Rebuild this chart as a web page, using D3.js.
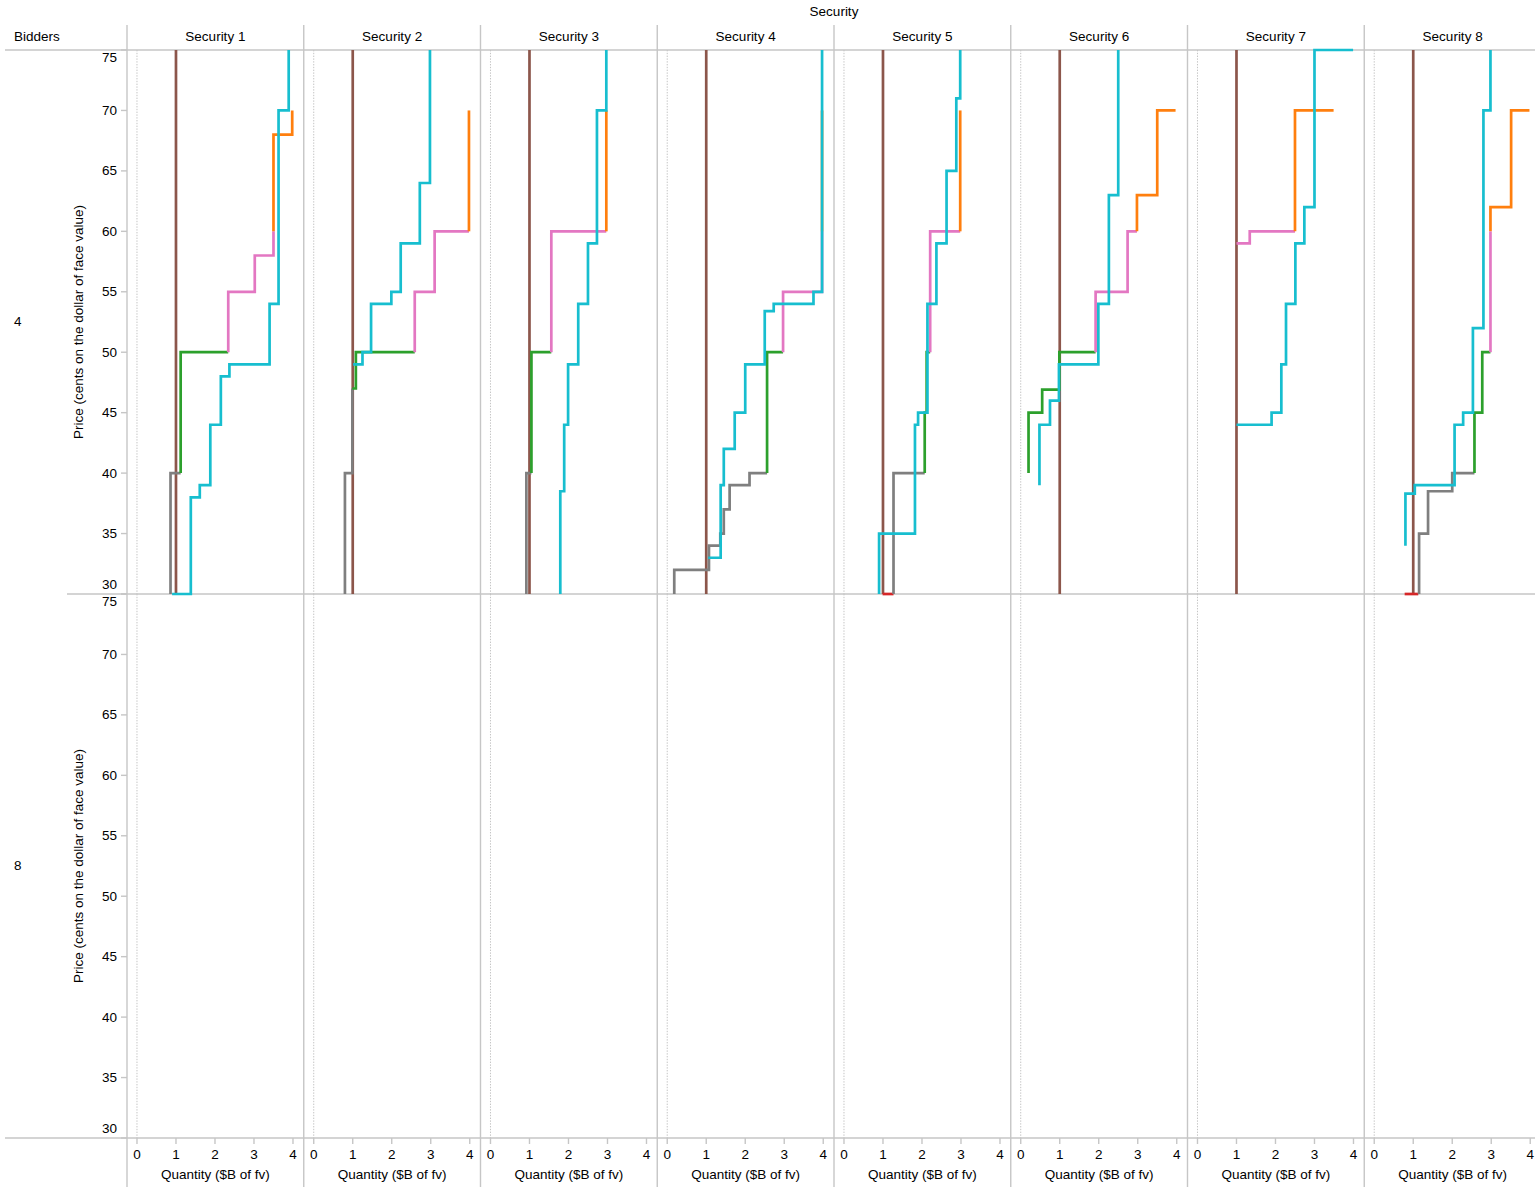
<!DOCTYPE html>
<html>
<head>
<meta charset="utf-8">
<script src="https://cdn.jsdelivr.net/npm/d3@7"></script>
<style>
  html, body { margin: 0; padding: 0; background: #fff; overflow: hidden; }
  svg text { font-family: "Liberation Sans", Arial, Helvetica, sans-serif; font-size: 13.5px; fill: #000; }
</style>
</head>
<body>
<div id="chart"></div>
<script>
// ---------------- DATA ----------------
const securities = ["Security 1","Security 2","Security 3","Security 4","Security 5","Security 6","Security 7","Security 8"];
const bidderGroups = ["4", "8"];
const priceTicks = [30, 35, 40, 45, 50, 55, 60, 65, 70, 75];
const quantityTicks = [0, 1, 2, 3, 4];
const priceDomain = [30, 75];
const quantityDomain = [-0.256, 4.276];
// supply quantity per security (vertical line), bidder group "4"
const supplyQty = [1, 1, 1, 1, 1, 1, 1, 1];

// step curves, [quantity ($B), price (cents)] — bidder group "4"
const sec1 = [
  {band: "30-40", pts: [[0.86,30],[0.86,40],[1.12,40]]},
  {band: "40-50", pts: [[1.12,40],[1.12,50],[2.34,50]]},
  {band: "50-60", pts: [[2.34,50],[2.34,55],[3.02,55],[3.02,58],[3.50,58],[3.50,60]]},
  {band: "60-70", pts: [[3.50,60],[3.50,68],[3.98,68],[3.98,70]]},
  {band: "all", pts: [[0.9,30],[1.38,30],[1.38,38],[1.61,38],[1.61,39],[1.88,39],[1.88,44],[2.15,44],[2.15,48],[2.37,48],[2.37,49],[3.40,49],[3.40,54],[3.63,54],[3.63,70],[3.89,70],[3.89,75]]}
];
const sec2 = [
  {band: "30-40", pts: [[0.80,30],[0.80,40],[0.99,40],[0.99,47]]},
  {band: "40-50", pts: [[0.99,47],[1.08,47],[1.08,50],[2.59,50]]},
  {band: "50-60", pts: [[2.59,50],[2.59,55],[3.10,55],[3.10,60],[3.98,60]]},
  {band: "60-70", pts: [[3.98,60],[3.98,70]]},
  {band: "all", pts: [[1.01,49],[1.25,49],[1.25,50],[1.47,50],[1.47,54],[1.99,54],[1.99,55],[2.23,55],[2.23,59],[2.72,59],[2.72,64],[2.98,64],[2.98,75]]}
];
const sec3 = [
  {band: "30-40", pts: [[0.92,30],[0.92,40],[1.05,40]]},
  {band: "40-50", pts: [[1.05,40],[1.05,50],[1.56,50]]},
  {band: "50-60", pts: [[1.56,50],[1.56,60],[2.97,60]]},
  {band: "60-70", pts: [[2.97,60],[2.97,70]]},
  {band: "all", pts: [[1.79,30],[1.79,38.5],[1.89,38.5],[1.89,44],[1.99,44],[1.99,49],[2.25,49],[2.25,54],[2.50,54],[2.50,59],[2.73,59],[2.73,70],[2.97,70],[2.97,75]]}
];
const sec4 = [
  {band: "30-40", pts: [[0.18,30],[0.18,32],[1.07,32],[1.07,34],[1.36,34],[1.36,35],[1.45,35],[1.45,37],[1.60,37],[1.60,39],[2.11,39],[2.11,40],[2.56,40]]},
  {band: "40-50", pts: [[2.56,40],[2.56,50],[2.97,50]]},
  {band: "50-60", pts: [[2.97,50],[2.97,55],[3.97,55],[3.97,60]]},
  {band: "60-70", pts: [[3.97,60],[3.97,70]]},
  {band: "all", pts: [[1.05,33],[1.37,33],[1.37,39],[1.45,39],[1.45,42],[1.73,42],[1.73,45],[2.0,45],[2.0,49],[2.5,49],[2.5,53.4],[2.73,53.4],[2.73,54],[3.75,54],[3.75,55],[3.97,55],[3.97,75]]}
];
const sec5 = [
  {band: "<30", pts: [[0.99,30],[1.27,30]]},
  {band: "30-40", pts: [[1.27,30],[1.27,40],[2.07,40]]},
  {band: "40-50", pts: [[2.07,40],[2.07,45],[2.12,45],[2.12,50],[2.21,50]]},
  {band: "50-60", pts: [[2.21,50],[2.21,60],[2.98,60]]},
  {band: "60-70", pts: [[2.98,60],[2.98,70]]},
  {band: "all", pts: [[0.90,30],[0.90,35],[1.82,35],[1.82,44],[1.90,44],[1.90,45],[2.14,45],[2.14,54],[2.37,54],[2.37,59],[2.63,59],[2.63,65],[2.88,65],[2.88,71],[2.98,71],[2.98,75]]}
];
const sec6 = [
  {band: "40-50", pts: [[0.20,40],[0.20,45],[0.55,45],[0.55,46.9],[0.99,46.9],[0.99,50],[1.92,50]]},
  {band: "50-60", pts: [[1.92,50],[1.92,55],[2.74,55],[2.74,60],[2.98,60]]},
  {band: "60-70", pts: [[2.98,60],[2.98,63],[3.50,63],[3.50,70],[3.97,70]]},
  {band: "all", pts: [[0.48,39],[0.48,44],[0.75,44],[0.75,46],[0.98,46],[0.98,49],[1.99,49],[1.99,54],[2.26,54],[2.26,63],[2.50,63],[2.50,75]]}
];
const sec7 = [
  {band: "50-60", pts: [[1.0,59],[1.34,59],[1.34,60],[2.50,60]]},
  {band: "60-70", pts: [[2.50,60],[2.50,70],[3.49,70]]},
  {band: "all", pts: [[1.0,44],[1.90,44],[1.90,45],[2.15,45],[2.15,49],[2.27,49],[2.27,54],[2.51,54],[2.51,59],[2.74,59],[2.74,62],[3.0,62],[3.0,75],[3.99,75]]}
];
const sec8 = [
  {band: "<30", pts: [[0.78,30],[1.13,30]]},
  {band: "30-40", pts: [[1.15,30],[1.15,35],[1.38,35],[1.38,38.5],[2.0,38.5],[2.0,40],[2.57,40]]},
  {band: "40-50", pts: [[2.57,40],[2.57,45],[2.77,45],[2.77,50],[2.98,50]]},
  {band: "50-60", pts: [[2.98,50],[2.98,60]]},
  {band: "60-70", pts: [[2.98,60],[2.98,62],[3.51,62],[3.51,70],[3.98,70]]},
  {band: "all", pts: [[0.80,34],[0.80,38.3],[1.04,38.3],[1.04,39],[2.06,39],[2.06,44],[2.28,44],[2.28,45],[2.53,45],[2.53,52],[2.80,52],[2.80,70],[2.98,70],[2.98,75]]}
];
const curvesBySecurity = [sec1, sec2, sec3, sec4, sec5, sec6, sec7, sec8];
const bandKeys = ["<30", "30-40", "40-50", "50-60", "60-70", "all", "supply"];

// ---------------- LAYOUT ----------------
const W = 1541, H = 1187;
const plotLeft = 127, panelW = 176.75;
const rowTop = [50, 594], rowH = 544;
const gridColor = "#c6c6c6";

const color = d3.scaleOrdinal()
  .domain(bandKeys)
  .range(["#d62728", "#7f7f7f", "#2ca02c", "#e377c2", "#ff7f0e", "#17becf", "#8c564b"]);

const x = d3.scaleLinear().domain(quantityDomain).range([0, panelW]);
const y = d3.scaleLinear().domain(priceDomain).range([rowH, 0]);
const line = d3.line().x(d => x(d[0])).y(d => y(d[1]));

const svg = d3.select("#chart").append("svg").attr("width", W).attr("height", H);

// column title
svg.append("text").attr("x", plotLeft + panelW * 4).attr("y", 11)
  .attr("text-anchor", "middle").attr("dominant-baseline", "central").text("Security");
svg.append("text").attr("x", 14).attr("y", 36).attr("dominant-baseline", "central").text("Bidders");

// column headers
securities.forEach((s, i) => {
  svg.append("text").attr("x", plotLeft + panelW * i + panelW / 2).attr("y", 36)
    .attr("text-anchor", "middle").attr("dominant-baseline", "central").text(s);
});

// horizontal separators
svg.append("line").attr("x1", 5).attr("x2", W).attr("y1", rowTop[0]).attr("y2", rowTop[0])
  .attr("stroke", gridColor).attr("stroke-width", 1.4);
svg.append("line").attr("x1", 67).attr("x2", W).attr("y1", rowTop[1]).attr("y2", rowTop[1])
  .attr("stroke", gridColor).attr("stroke-width", 1.4);
svg.append("line").attr("x1", 5).attr("x2", W).attr("y1", rowTop[1] + rowH).attr("y2", rowTop[1] + rowH)
  .attr("stroke", gridColor).attr("stroke-width", 1.4);

// vertical separators
for (let i = 0; i < securities.length; i++) {
  const xx = plotLeft + panelW * i;
  svg.append("line").attr("x1", xx).attr("x2", xx).attr("y1", 25).attr("y2", H)
    .attr("stroke", gridColor).attr("stroke-width", 1.4);
}

// rows
bidderGroups.forEach((b, r) => {
  const top = rowTop[r];
  // row label
  svg.append("text").attr("x", 14).attr("y", top + rowH / 2 - 1).attr("dominant-baseline", "central").text(b);
  // y axis title
  svg.append("text")
    .attr("transform", `translate(78,${top + rowH / 2}) rotate(-90)`)
    .attr("text-anchor", "middle").attr("dominant-baseline", "central")
    .text("Price (cents on the dollar of face value)");
  // y axis ticks + labels
  const yAxisG = svg.append("g").attr("transform", `translate(${plotLeft},${top})`);
  priceTicks.forEach((t, k) => {
    const yy = y(t);
    yAxisG.append("line").attr("x1", -6).attr("x2", 0).attr("y1", yy).attr("y2", yy)
      .attr("stroke", gridColor).attr("stroke-width", 1.4);
    let dy = yy, base = "central";
    if (t === priceDomain[1]) { dy = yy + 2; base = "hanging"; }
    if (t === priceDomain[0]) { dy = yy - 5; base = "auto"; }
    yAxisG.append("text").attr("x", -10).attr("y", dy)
      .attr("text-anchor", "end").attr("dominant-baseline", base).text(t);
  });

  securities.forEach((s, i) => {
    const g = svg.append("g").attr("transform", `translate(${plotLeft + panelW * i},${top})`);
    // zero rule (dotted)
    g.append("line").attr("x1", x(0)).attr("x2", x(0)).attr("y1", 0).attr("y2", rowH)
      .attr("stroke", "#c4c4c4").attr("stroke-width", 1).attr("stroke-dasharray", "1.4,1.4");
    if (r !== 0) return;
    // supply line
    g.append("path")
      .attr("d", line([[supplyQty[i], priceDomain[0]], [supplyQty[i], priceDomain[1]]]))
      .attr("fill", "none").attr("stroke", color("supply")).attr("stroke-width", 2.7);
    // bid curves
    const curves = curvesBySecurity[i];
    curves.filter(c => c.band !== "all").forEach(c => {
      g.append("path").attr("d", line(c.pts)).attr("fill", "none")
        .attr("stroke", color(c.band)).attr("stroke-width", 2.7).attr("stroke-linejoin", "miter");
    });
    curves.filter(c => c.band === "all").forEach(c => {
      g.append("path").attr("d", line(c.pts)).attr("fill", "none")
        .attr("stroke", color(c.band)).attr("stroke-width", 2.7).attr("stroke-linejoin", "miter");
    });
  });
});

// bottom x axes
const axisTop = rowTop[1] + rowH;
securities.forEach((s, i) => {
  const g = svg.append("g").attr("transform", `translate(${plotLeft + panelW * i},${axisTop})`);
  quantityTicks.forEach(t => {
    g.append("line").attr("x1", x(t)).attr("x2", x(t)).attr("y1", 0).attr("y2", 6)
      .attr("stroke", gridColor).attr("stroke-width", 1.4);
    g.append("text").attr("x", x(t)).attr("y", 16).attr("text-anchor", "middle")
      .attr("dominant-baseline", "central").text(t);
  });
  g.append("text").attr("x", panelW / 2).attr("y", 36).attr("text-anchor", "middle")
    .attr("dominant-baseline", "central").text("Quantity ($B of fv)");
});
</script>
</body>
</html>
